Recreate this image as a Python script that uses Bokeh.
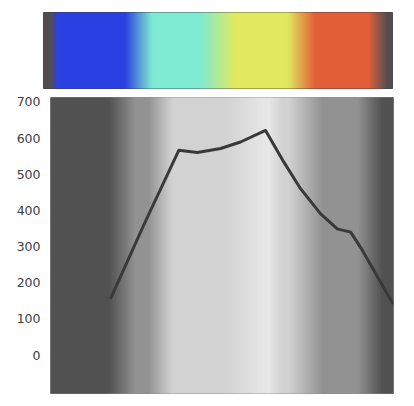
import numpy as np
from bokeh.plotting import figure
from bokeh.models import Range1d, FixedTicker
from bokeh.embed import file_html
from bokeh.resources import INLINE

# ---- data ----
# colour strip (top): stop positions (0-100) and colours
strip_pos = [0, 2.0, 4.3, 23.5, 31.2, 45.0, 55.0, 69.9, 77.9, 93.1, 98.6, 100]
strip_col = ["#474344", "#474344", "#1c35e0", "#1c35e0", "#76e8cf", "#76e8cf",
             "#dfe855", "#dfe855", "#e0552a", "#e0552a", "#474344", "#474344"]

# grey background (bottom): stop positions (0-100) and grey levels
grey_pos = [0, 17.2, 24.8, 28.6, 35.6, 50.4, 63.6, 67.6, 69.4, 79.3, 89.5, 96.8, 100]
grey_lvl = [71, 71, 139, 139, 207, 207, 230, 207, 207, 139, 139, 71, 71]

# line series
line_x = [17.5, 27.7, 37.4, 42.8, 49.6, 55.4, 62.7, 68.0, 72.9, 78.7, 83.6, 87.5, 90.4, 94.3, 98.2, 99.9]
line_y = [156, 370, 566, 560, 571, 589, 621, 534, 460, 391, 349, 340, 298, 234, 169, 141]

y_ticks = [0, 100, 200, 300, 400, 500, 600, 700]


def hex2rgb(h):
    h = h.lstrip("#")
    return [int(h[i:i + 2], 16) for i in (0, 2, 4)]


def slices(pos, rgb_list, n):
    edges = np.linspace(0, 100, n + 1)
    mids = (edges[:-1] + edges[1:]) / 2
    arr = np.array(rgb_list, dtype=float)
    chans = [np.interp(mids, pos, arr[:, k]) for k in range(3)]
    cols = ["#%02x%02x%02x" % (int(round(r)), int(round(g)), int(round(b)))
            for r, g, b in zip(*chans)]
    return edges[:-1], edges[1:], cols


# ---- top colour strip ----
p1 = figure(width=400, height=90, min_border_left=43, min_border_right=8,
            min_border_top=12, min_border_bottom=2,
            x_axis_location=None, y_axis_location=None,
            toolbar_location=None, output_backend="svg",
            x_range=Range1d(0, 100), y_range=Range1d(0, 1))
l, r, c = slices(strip_pos, [hex2rgb(h) for h in strip_col], 349)
p1.quad(left=l, right=r, bottom=0, top=1, fill_color=c, line_color=c, line_width=0.5)
p1.grid.visible = False
p1.outline_line_color = "#555555"
p1.outline_line_width = 1

# ---- bottom plot ----
p2 = figure(width=400, height=309, min_border_left=50, min_border_right=7,
            min_border_top=7, min_border_bottom=6,
            x_axis_location=None,
            toolbar_location=None, output_backend="svg",
            x_range=Range1d(0, 100), y_range=Range1d(-106, 712))
l2, r2, c2 = slices(grey_pos, [[g, g, g] for g in grey_lvl], 343)
p2.quad(left=l2, right=r2, bottom=-106, top=712, fill_color=c2, line_color=c2, line_width=0.5)
p2.line(line_x, line_y, line_color="#3b3839", line_width=3, line_join="round")
p2.grid.visible = False
p2.outline_line_color = "#999999"
p2.outline_line_width = 1

ax = p2.yaxis[0]
ax.ticker = FixedTicker(ticks=y_ticks)
ax.axis_line_color = None
ax.major_tick_line_color = None
ax.minor_tick_line_color = None
ax.major_tick_out = 0
ax.major_tick_in = 0
ax.minor_tick_out = 0
ax.major_label_standoff = 10
ax.major_label_text_font = "DejaVu Sans"
ax.major_label_text_font_size = "12.5px"
ax.major_label_text_color = "#404040"

open("out.html", "w").write(file_html([p1, p2], INLINE))
